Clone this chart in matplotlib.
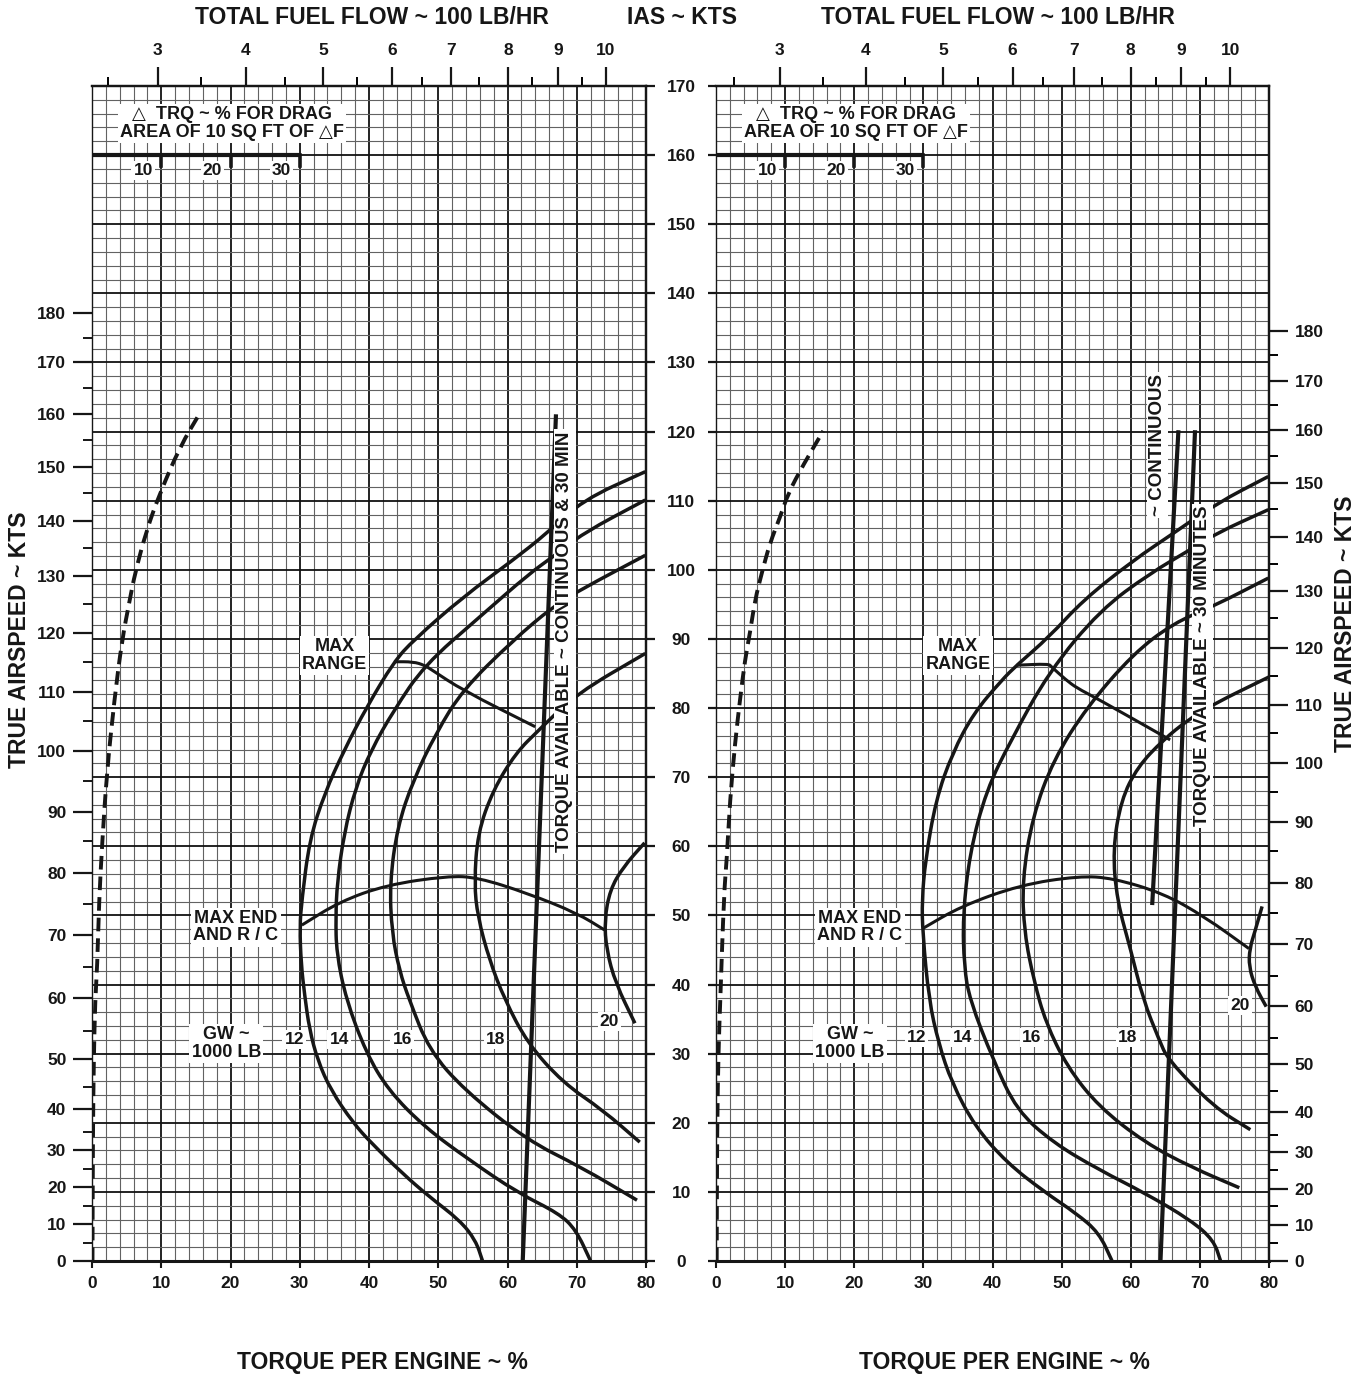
import numpy as np
import matplotlib.pyplot as plt
from matplotlib.path import Path
from matplotlib.patches import PathPatch

plt.rcParams['font.family'] = ['Liberation Sans', 'DejaVu Sans']
plt.rcParams['font.weight'] = 'bold'

INK = '#161616'

# ---------------- data: [torque %, IAS kt] ----------------
gw_names = ['12', '14', '16', '18', '20']

# left chart
left_gw12 = np.array([[56.4, 0], [55.4, 3.0], [53.1, 5.9], [48.7, 9.3], [44.8, 12.7], [40.3, 17.1],
                      [37.7, 20.0], [34.5, 24.7], [32.6, 29.0], [31.4, 33.5], [30.7, 38.5], [30.2, 43.0],
                      [30.0, 48.4], [30.3, 52.2], [31.4, 60.9], [33.6, 67.7], [36.4, 73.9], [39.7, 80.2],
                      [43.6, 86.7], [46.4, 89.8], [53.6, 96.1], [60.8, 101.4], [65.7, 105.3], [70.9, 110.1],
                      [79.9, 114.2]])
left_gw14 = np.array([[72.0, 0], [69.9, 4.5], [67.4, 6.9], [61.6, 9.8], [54.5, 14.6], [48.0, 19.4],
                      [42.8, 24.7], [39.6, 30.1], [36.7, 37.8], [35.3, 44.6], [35.2, 49.8], [35.4, 54.7],
                      [36.4, 61.9], [38.1, 68.6], [40.3, 73.9], [43.6, 79.7], [48.0, 86.2], [56.0, 93.2],
                      [63.2, 99.5], [66.6, 101.9], [70.9, 105.3], [79.9, 110.1]])
left_gw16 = np.array([[78.7, 8.8], [70.6, 13.6], [62.8, 17.5], [53.8, 24.7], [48.7, 30.5], [45.8, 37.8],
                      [44.4, 42.0], [43.3, 47.5], [43.0, 54.7], [44.1, 62.8], [46.4, 69.6], [49.7, 76.4],
                      [53.5, 82.6], [60.8, 89.8], [66.6, 94.7], [70.5, 97.1], [79.9, 102.1]])
left_gw18 = np.array([[79.1, 17.2], [73.8, 21.8], [68.0, 25.8], [62.9, 31.5], [59.6, 37.8], [57.4, 43.5],
                      [55.7, 49.8], [55.2, 54.7], [55.7, 61.9], [57.9, 68.1], [61.2, 73.5], [64.5, 76.8],
                      [70.0, 82.1], [79.9, 87.9]])
left_gw20 = np.array([[79.8, 60.5], [76.7, 57.0], [74.8, 53.7], [74.0, 49.3], [74.3, 45.0], [75.6, 40.2],
                      [78.4, 34.4]])
left_max_range = np.array([[43.6, 86.7], [46.4, 86.7], [48.0, 86.2], [49.1, 85.5], [53.5, 82.6], [64.0, 77.3]])
left_max_end = np.array([[30.3, 48.6], [35.8, 52.0], [42.5, 54.4], [51.3, 55.7], [55.7, 55.5], [62.9, 53.2],
                         [70.1, 50.3], [74.0, 47.9]])
left_trq_avail = np.array([[62.2, 0], [67.0, 122.5]])
left_drag = np.array([[0.07, 0], [0.13, 18.5], [0.26, 29.2], [0.46, 37.8], [0.75, 42.5], [1.03, 52.2],
                      [1.47, 60.5], [2.14, 70.6], [3.23, 81.2], [4.33, 89.8], [5.44, 95.6], [6.21, 99.5],
                      [7.9, 105.8], [9.82, 111.1], [12.7, 117.8], [15.6, 122.7]])

# right chart
right_gw12 = np.array([[57.3, 0], [55.4, 4.1], [52.1, 6.9], [47.5, 10.0], [42.1, 14.2], [37.5, 19.4],
                       [34.1, 25.8], [32.2, 31.5], [30.8, 37.8], [29.9, 47.5], [29.8, 52.2], [30.3, 58.0],
                       [31.8, 66.7], [34.2, 73.5], [37.3, 79.3], [41.3, 84.0], [43.5, 86.2], [48.2, 90.3],
                       [53.1, 95.6], [60.4, 101.4], [66.2, 105.3], [72.4, 109.6], [79.9, 113.5]])
right_gw14 = np.array([[73.0, 0], [72.0, 3.0], [68.7, 5.9], [62.1, 9.8], [55.4, 13.2], [48.8, 17.1],
                       [43.5, 21.8], [40.1, 29.1], [36.7, 37.8], [35.9, 42.6], [35.7, 49.8], [36.7, 59.0],
                       [39.1, 68.1], [42.7, 75.4], [48.2, 85.3], [55.6, 94.2], [62.8, 99.5], [68.6, 102.9],
                       [72.4, 105.3], [79.9, 108.7]])
right_gw16 = np.array([[75.7, 10.6], [68.7, 13.6], [62.1, 17.1], [55.4, 22.3], [50.8, 28.1], [47.7, 34.5],
                       [46.0, 40.5], [44.6, 47.5], [44.3, 55.1], [45.8, 64.3], [48.8, 72.5], [53.7, 80.2],
                       [60.4, 87.9], [66.2, 92.3], [71.9, 94.7], [79.9, 98.8]])
right_gw18 = np.array([[77.3, 19.0], [72.0, 22.3], [65.4, 29.1], [64.1, 32.0], [61.8, 37.8], [60.0, 45.0],
                       [58.0, 52.2], [57.4, 59.5], [58.6, 66.7], [61.0, 71.5], [64.7, 75.4], [68.3, 78.3],
                       [72.0, 80.6], [80.0, 84.5]])
right_gw20 = np.array([[79.0, 51.3], [78.0, 47.8], [77.2, 45.2], [77.1, 42.6], [78.0, 39.7], [79.6, 36.8]])
right_max_range = np.array([[43.5, 86.2], [48.1, 86.4], [48.5, 86.0], [50.6, 84.1], [52.2, 82.9],
                            [55.1, 81.4], [65.7, 75.4]])
right_max_end = np.array([[29.9, 48.1], [35.4, 51.3], [44.0, 54.4], [52.5, 55.7], [57.4, 55.4], [64.7, 53.2],
                          [70.7, 49.8], [77.1, 45.2]])
right_trq_cont = np.array([[63.1, 51.5], [66.9, 120.2]])
right_trq_30min = np.array([[64.3, 0], [69.3, 120.2]])
right_drag = np.array([[0.1, 0], [0.16, 19.4], [0.36, 30.5], [0.62, 37.8], [1.16, 53.2], [1.55, 58.0],
                       [2.03, 66.7], [2.75, 74.9], [3.47, 81.2], [4.2, 87.0], [4.92, 90.9], [5.64, 95.6],
                       [6.61, 99.5], [7.81, 103.9], [9.26, 107.6], [10.46, 111.1], [12.63, 115.2], [15.52, 120.1]])

# true airspeed scale (labels) and where they sit on the IAS scale
tas_major = list(range(0, 181, 10))
left_tas_major_pos = [0, 5.35, 10.7, 16.0, 22.0, 29.2, 38.0, 47.1, 56.2, 64.9, 73.8, 82.3, 90.8, 99.1,
                      107.1, 114.9, 122.5, 130.0, 137.1]
left_tas_minor_pos = [2.65, 8.0, 13.3, 18.7, 25.2, 33.3, 42.5, 51.7, 60.7, 69.5, 78.1, 86.7, 95.1, 103.1,
                      111.1, 118.8, 126.3, 133.6]
right_tas_major_pos = [0, 5.2, 10.4, 15.7, 21.5, 28.5, 36.9, 45.8, 54.7, 63.5, 72.1, 80.4, 88.7, 96.9,
                       104.7, 112.6, 120.2, 127.3, 134.5]
right_tas_minor_pos = [2.6, 7.9, 13.1, 18.3, 24.6, 32.3, 41.3, 50.4, 59.3, 67.8, 76.4, 84.7, 93.1, 100.8,
                       108.8, 116.4, 123.9, 131.1]

# total fuel flow scale (100 lb/hr) and where it sits on the torque scale
ff_labels = ['3', '4', '5', '6', '7', '8', '9', '10']
left_ff_pos = [9.5, 22.2, 33.4, 43.3, 51.9, 60.1, 67.3, 74.2]
left_ff_minor = [2.3, 15.8, 27.8, 38.2, 47.6, 55.9, 63.6, 70.7]
right_ff_pos = [9.2, 21.7, 32.9, 42.9, 51.8, 60.0, 67.3, 74.4]
right_ff_minor = [2.6, 15.5, 27.4, 37.9, 47.3, 55.8, 63.7, 70.9]

ias_ticks = list(range(0, 171, 10))
trq_ticks = list(range(0, 81, 10))
drag_ticks = [10, 20, 30]

# ---------------- figure ----------------
W, H = 1366, 1374
fig = plt.figure(figsize=(W / 100, H / 100), dpi=100)
axL = fig.add_axes([92 / W, (H - 1261) / H, 554 / W, 1175 / H])
axR = fig.add_axes([716 / W, (H - 1261) / H, 553 / W, 1175 / H])

box = dict(facecolor='white', edgecolor='none', pad=1.5)


def txt(ax, x, y, s, size=13, **kw):
    ax.text(x, y, s, ha='center', va='center', fontsize=size, fontweight='bold', color=INK,
            bbox=box, zorder=6, linespacing=1.05, **kw)


def base(ax):
    ax.set_xlim(0, 80)
    ax.set_ylim(0, 170)
    # graph paper
    for t in range(0, 81, 2):
        major = t % 10 == 0
        ax.axvline(t, color='#111111' if major else '#626262', lw=1.3 if major else 0.8, zorder=1)
    for v in range(0, 171, 2):
        major = v % 10 == 0
        ax.axhline(v, color='#111111' if major else '#626262', lw=1.3 if major else 0.8, zorder=1)
    for sp in ax.spines.values():
        sp.set_linewidth(1.6)
        sp.set_color(INK)
    ax.spines['left'].set_linewidth(1.0)
    ax.spines['bottom'].set_linewidth(2.2)
    ax.set_xticks(trq_ticks)
    ax.tick_params(axis='x', length=5, width=1.5, labelsize=12.5, pad=6, colors=INK)

    # drag scale
    ax.plot([0, 30], [160, 160], color=INK, lw=3, zorder=4, solid_capstyle='butt')
    for d in drag_ticks:
        ax.plot([d, d], [160, 158.4], color=INK, lw=2.6, zorder=4)
        txt(ax, d - 2.6, 157.8, str(d), size=12.5)
    txt(ax, 20.2, 164.6, '\u25b3  TRQ ~ % FOR DRAG\nAREA OF 10 SQ FT OF \u25b3F')

    txt(ax, 35.0, 87.6, 'MAX\nRANGE')
    txt(ax, 20.8, 48.3, 'MAX END\nAND R / C')
    txt(ax, 19.4, 31.5, 'GW ~\n1000 LB')


def curve(ax, pts, lw=2.5, ls='-'):
    # smooth quadratic path through the read points (drawing only)
    if len(pts) < 3:
        ax.plot(pts[:, 0], pts[:, 1], color=INK, lw=lw, ls=ls, zorder=3, solid_capstyle='butt')
        return
    mids = (pts[:-1] + pts[1:]) / 2
    verts = [pts[0], mids[0]]
    codes = [Path.MOVETO, Path.LINETO]
    for i in range(1, len(pts) - 1):
        verts += [pts[i], mids[i]]
        codes += [Path.CURVE3, Path.CURVE3]
    verts.append(pts[-1])
    codes.append(Path.LINETO)
    ax.add_patch(PathPatch(Path(verts, codes), fill=False, edgecolor=INK, lw=lw, ls=ls,
                           capstyle='butt', joinstyle='round', zorder=3))


def fuel_axis(ax, pos, minor):
    top = ax.secondary_xaxis('top')
    top.set_xticks(pos, labels=ff_labels)
    top.set_xticks(minor, minor=True)
    top.tick_params(which='major', length=13.5, width=1.6, labelsize=12.5, pad=7, colors=INK)
    top.tick_params(which='minor', length=6.5, width=1.4)
    top.spines['top'].set_linewidth(1.6)


# ---- left chart ----
base(axL)
for pts in [left_gw12, left_gw14, left_gw16, left_gw18, left_gw20]:
    curve(axL, pts)
curve(axL, left_max_range, lw=2.2)
curve(axL, left_max_end, lw=2.2)
curve(axL, left_trq_avail, lw=3.0)
curve(axL, left_drag, lw=2.8, ls=(0, (3.5, 1.8)))
for name, x, y in zip(gw_names, [29.2, 35.7, 44.8, 58.3, 74.7], [32.0, 32.0, 32.0, 32.0, 34.6]):
    txt(axL, x, y, name, size=12.5)
txt(axL, 68.3, 89.6, 'TORQUE AVAILABLE ~ CONTINUOUS & 30 MIN', size=13.5, rotation=90)

axL.set_yticks(left_tas_major_pos, labels=[str(v) for v in tas_major])
axL.set_yticks(left_tas_minor_pos, minor=True)
axL.tick_params(axis='y', which='major', length=13.5, width=1.6, labelsize=12.5, pad=5, colors=INK)
axL.tick_params(axis='y', which='minor', length=6.5, width=1.4, colors=INK)
secL = axL.secondary_yaxis('right')
secL.set_yticks(ias_ticks, labels=[''] * len(ias_ticks))
secL.tick_params(length=6.5, width=1.6, colors=INK)
secL.spines['right'].set_linewidth(1.6)
fuel_axis(axL, left_ff_pos, left_ff_minor)

# ---- right chart ----
base(axR)
for pts in [right_gw12, right_gw14, right_gw16, right_gw18, right_gw20]:
    curve(axR, pts)
curve(axR, right_max_range, lw=2.2)
curve(axR, right_max_end, lw=2.2)
curve(axR, right_trq_cont, lw=3.0)
curve(axR, right_trq_30min, lw=3.0)
curve(axR, right_drag, lw=2.8, ls=(0, (3.5, 1.8)))
for name, x, y in zip(gw_names, [29.0, 35.6, 45.7, 59.6, 75.8], [32.3, 32.3, 32.3, 32.3, 37.0]):
    txt(axR, x, y, name, size=12.5)
txt(axR, 63.9, 118.1, '~ CONTINUOUS', size=13.5, rotation=90)
txt(axR, 70.4, 86.1, 'TORQUE AVAILABLE ~ 30 MINUTES', size=13.5, rotation=90)

# IAS scale between the two charts
axR.set_yticks(ias_ticks, labels=[str(v) for v in ias_ticks])
axR.tick_params(axis='y', length=6, width=1.6, labelsize=12.5, pad=19, colors=INK)
for lab in axR.get_yticklabels():
    lab.set_horizontalalignment('center')
secR = axR.secondary_yaxis('right')
secR.set_yticks(right_tas_major_pos, labels=[str(v) for v in tas_major])
secR.set_yticks(right_tas_minor_pos, minor=True)
secR.tick_params(which='major', length=13.5, width=1.6, labelsize=12.5, pad=5, colors=INK)
secR.tick_params(which='minor', length=6.5, width=1.4)
secR.spines['right'].set_linewidth(1.6)
fuel_axis(axR, right_ff_pos, right_ff_minor)

# titles
title = dict(fontsize=16.5, fontweight='bold', color=INK, ha='center', va='center')
fig.text(372 / W, 1 - 18 / H, 'TOTAL FUEL FLOW ~ 100 LB/HR', **title)
fig.text(998 / W, 1 - 18 / H, 'TOTAL FUEL FLOW ~ 100 LB/HR', **title)
fig.text(682 / W, 1 - 18 / H, 'IAS ~ KTS', **title)
fig.text(382 / W, 1 - 1362 / H, 'TORQUE PER ENGINE ~ %', **title)
fig.text(1004 / W, 1 - 1362 / H, 'TORQUE PER ENGINE ~ %', **title)
fig.text(20 / W, 1 - 640 / H, 'TRUE AIRSPEED ~ KTS', rotation=90, **title)
fig.text(1345 / W, 1 - 624 / H, 'TRUE AIRSPEED ~ KTS', rotation=90, **title)

fig.savefig('out.png', dpi=100, facecolor='white')
